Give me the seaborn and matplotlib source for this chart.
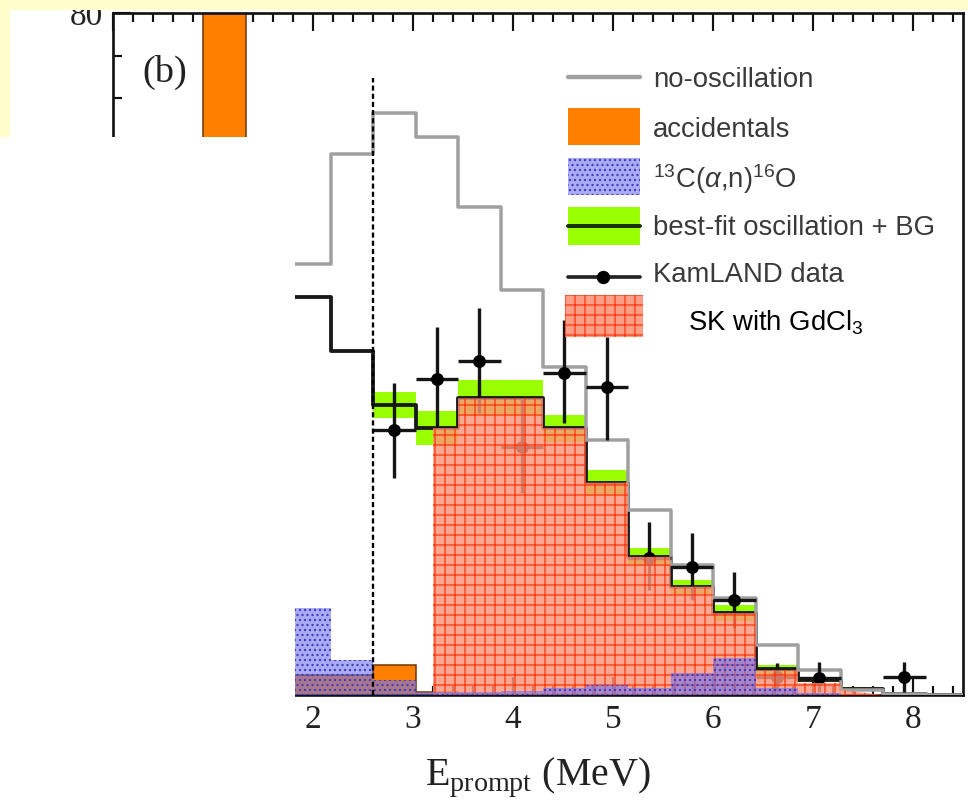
import numpy as np
import matplotlib
matplotlib.use("Agg")
import matplotlib.pyplot as plt
import seaborn as sns
from matplotlib.patches import Rectangle
from matplotlib.lines import Line2D
from matplotlib.ticker import MultipleLocator

nan = np.nan

# Prompt-energy binning (MeV), 0.425 MeV per bin
bin_edges = [0.9, 1.325, 1.75, 2.175, 2.6, 3.025, 3.45, 3.875, 4.3, 4.725,
             5.15, 5.575, 6.0, 6.425, 6.85, 7.275, 7.7, 8.125, 8.55]

# Expected spectra (events / bin)
no_oscillation = [nan, nan, 50.6, 63.5, 68.3, 65.5, 57.2, 47.5, 38.5, 29.9,
                  21.7, 15.2, 11.4, 5.9, 2.9, 0.6, 0.1, 0.0]
best_fit = [nan, nan, 46.7, 40.4, 34.0, 31.3, 34.8, 34.8, 31.3, 24.9,
            16.2, 12.7, 9.6, 3.0, 1.8, 0.7, 0.1, 0.0]
best_fit_band = [nan, nan, nan, nan, 1.5, 2.0, 2.1, 2.1, 1.6, 1.5,
                 1.1, 0.8, 0.9, 0.5, 0.3, 0.2, 0.1, 0.0]
accidentals = [230.0, 45.0, 2.3, 2.3, 3.5, 0.3, 0.1, 0.05, 0.0, 0.0,
               0.0, 0.0, 0.0, 0.0, 0.0, 0.0, 0.0, 0.0]
c13_alpha_n = [nan, nan, 10.2, 4.1, 1.8, 0.4, 0.3, 0.5, 0.8, 1.2,
               0.8, 2.6, 4.3, 0.8, 0.2, 0.0, 0.0, 0.0]

# KamLAND candidate events (bin centres)
data_energy = [2.8125, 3.2375, 3.6625, 4.0875, 4.5125, 4.9375,
               5.3625, 5.7875, 6.2125, 6.6375, 7.0625, 7.9125]
data_counts = [31.1, 37.1, 39.2, 29.1, 37.8, 36.1, 16.1, 15.0, 11.1, 2.1, 2.0, 2.1]
data_err_lo = [5.6, 5.7, 6.1, 5.4, 5.9, 6.2, 3.8, 3.9, 3.2, 1.6, 1.7, 1.8]
data_err_hi = [5.5, 6.1, 6.2, 5.9, 6.2, 5.9, 4.2, 4.0, 3.3, 1.6, 1.9, 1.8]
bin_half_width = 0.2125

# SK with GdCl3 expectation
sk_edges = [3.2, 3.45, 3.875, 4.3, 4.725, 5.15, 5.575, 6.0, 6.425, 6.85, 7.275]
sk_counts = [31.3, 34.8, 34.8, 31.3, 24.9, 16.2, 12.7, 9.6, 2.9, 1.4]
sk_tail_level = 0.6
sk_tail_end = 7.7

threshold = 2.6

# ---------------------------------------------------------------- style
W, H, DPI = 968, 812, 120
sns.set_theme(style="ticks")
plt.rcParams.update({
    "font.family": ["Liberation Serif", "DejaVu Serif"],
    "mathtext.fontset": "custom",
    "mathtext.rm": "Liberation Serif",
    "mathtext.sf": "Liberation Sans",
    "mathtext.it": "Liberation Sans:italic",
    "hatch.linewidth": 0.8,
    "axes.linewidth": 1.5,
})

acc_color = "#ff7f00"
c13_face = (0.45, 0.45, 0.92, 0.6)
c13_hatch = "#3d3dc0"
band_color = "#99ff00"
fit_color = "#1a1a1a"
noosc_color = "#a0a0a0"
sk_face = (1.0, 0.58, 0.48, 0.82)
sk_grid = "#ff3a10"
legend_text = "#3a3a3a"

fig = plt.figure(figsize=(W / DPI, H / DPI), dpi=DPI)
fig.patch.set_facecolor("white")
ax = fig.add_axes([113 / W, 1 - 695 / H, 850 / W, 682 / H])
ax.set_facecolor("white")


def valid(vals):
    arr = np.asarray(vals, dtype=float)
    return int(np.argmax(~np.isnan(arr)))


edges = np.asarray(bin_edges)

# accidentals (filled)
ax.stairs(accidentals, edges, fill=True, facecolor=acc_color, edgecolor="none", zorder=2)
ax.stairs(accidentals, edges, fill=False, color="#6a3300", lw=0.9, baseline=0, zorder=2.1)

# best-fit uncertainty band
i0 = valid(best_fit_band)
bf = np.asarray(best_fit, dtype=float)[i0:]
bw = np.asarray(best_fit_band, dtype=float)[i0:]
ax.stairs(bf + bw, edges[i0:], baseline=bf - bw, fill=True,
          facecolor=band_color, edgecolor="none", zorder=3)

# best-fit and no-oscillation step lines
for vals, col, lw in [(best_fit, fit_color, 2.3), (no_oscillation, noosc_color, 2.1)]:
    k = valid(vals)
    yv = list(vals[k:]) + [vals[-1]]
    sns.lineplot(x=list(edges[k:]), y=yv, ax=ax, color=col, lw=lw,
                 drawstyle="steps-post", sort=False, legend=False, zorder=4)

# KamLAND data
ax.errorbar(data_energy, data_counts, yerr=[data_err_lo, data_err_hi],
            xerr=bin_half_width, fmt="none", ecolor="#151515", elinewidth=2.0,
            capsize=0, zorder=5)
sns.scatterplot(x=data_energy, y=data_counts, ax=ax, color="black", s=60,
                linewidth=0, zorder=5.5, legend=False)

# SK with GdCl3 region
sx, sy = [sk_edges[0]], [0.0]
for j, h in enumerate(sk_counts):
    sx += [sk_edges[j], sk_edges[j + 1]]
    sy += [h, h]
sx += [sk_edges[-1], sk_tail_end]
sy += [sk_tail_level, 0.0]
ax.fill(sx, sy, facecolor=sk_face, edgecolor=sk_grid, hatch="++", lw=0, zorder=6)

# 13C(alpha,n)16O (hatched)
k = valid(c13_alpha_n)
ax.stairs(c13_alpha_n[k:], edges[k:], fill=True, facecolor=c13_face,
          edgecolor=c13_hatch, hatch="....", lw=0, zorder=7)

# analysis threshold
ax.axvline(threshold, ymax=0.905, color="black", lw=1.4, ls=(0, (2.2, 1.3)), zorder=8)

# ---------------------------------------------------------------- axes
ax.set_xlim(0, 8.5)
ax.set_ylim(0, 80)
ax.xaxis.set_major_locator(MultipleLocator(1))
ax.xaxis.set_minor_locator(MultipleLocator(0.2))
ax.yaxis.set_major_locator(MultipleLocator(20))
ax.yaxis.set_minor_locator(MultipleLocator(5))
ax.tick_params(which="both", direction="in", top=True, right=False,
               color="#111111", width=1.3)
ax.tick_params(which="major", length=11, pad=6, labelsize=20, labelcolor="#222222")
ax.tick_params(which="minor", length=5.5)
for s in ax.spines.values():
    s.set_color("#111111")
    s.set_linewidth(1.6)
    s.set_visible(True)
ax.set_xlabel(r"$\mathrm{E}_{\mathrm{prompt}}$ (MeV)", fontsize=24,
              color="#222222", labelpad=12)
ax.set_ylabel("")
ax.text(0.061, 0.913, "(b)", transform=ax.transAxes, ha="center", va="center",
        fontsize=23, color="#222222")

# ---------------------------------------------------------------- legend
lx0, lx1 = 0.535, 0.620
tx = 0.635
tkw = dict(transform=ax.transAxes, ha="left", va="baseline",
           family="Liberation Sans", fontsize=16.5, color=legend_text, zorder=12)
ax.add_line(Line2D([lx0, lx1], [0.906, 0.906], transform=ax.transAxes,
                   color=noosc_color, lw=2.6, zorder=11, clip_on=False))
ax.text(tx, 0.8915, "no-oscillation", **tkw)
ax.add_patch(Rectangle((lx0, 0.806), lx1 - lx0, 0.055, transform=ax.transAxes,
                       facecolor=acc_color, edgecolor="none", zorder=11))
ax.text(tx, 0.818, "accidentals", **tkw)
ax.add_patch(Rectangle((lx0, 0.733), lx1 - lx0, 0.054, transform=ax.transAxes,
                       facecolor=c13_face, edgecolor=c13_hatch, hatch="....",
                       lw=0, zorder=11))
ax.text(tx, 0.743, r"$^{\mathsf{13}}$C($\alpha$,n)$^{\mathsf{16}}$O", **tkw)
ax.add_patch(Rectangle((lx0, 0.660), lx1 - lx0, 0.056, transform=ax.transAxes,
                       facecolor=band_color, edgecolor="none", zorder=11))
ax.add_line(Line2D([lx0, lx1], [0.688, 0.688], transform=ax.transAxes,
                   color="#1a3300", lw=2.4, zorder=11.5))
ax.text(tx, 0.674, "best-fit oscillation + BG", **tkw)
ax.add_line(Line2D([lx0, lx1], [0.613, 0.613], transform=ax.transAxes,
                   color="#222222", lw=2.2, zorder=11))
ax.add_line(Line2D([0.576], [0.613], transform=ax.transAxes, marker="o",
                   markersize=7, color="black", zorder=11.5))
ax.text(tx, 0.6056, "KamLAND data", **tkw)
ax.add_patch(Rectangle((0.532, 0.525), 0.092, 0.062, transform=ax.transAxes,
                       facecolor=(1.0, 0.58, 0.48, 0.9), edgecolor=sk_grid,
                       hatch="++", lw=0, zorder=11))
ax.text(0.676, 0.535, r"SK with GdCl$_{\mathsf{3}}$", transform=ax.transAxes,
        ha="left", va="baseline", family="Liberation Sans", fontsize=16.5,
        color="black", zorder=12)

# ---------------------------------------------------------------- page frame
yellow = "#ffffcc"
fig.add_artist(Rectangle((0, 1 - 10 / H), 1, 10 / H, transform=fig.transFigure,
                         facecolor=yellow, edgecolor="none", zorder=20))
fig.add_artist(Rectangle((0, 1 - 137 / H), 10 / W, 137 / H, transform=fig.transFigure,
                         facecolor=yellow, edgecolor="none", zorder=20))
fig.add_artist(Rectangle((0, 0), 295 / W, 1 - 137 / H, transform=fig.transFigure,
                         facecolor="white", edgecolor="none", zorder=20))

fig.savefig("out.png", dpi=DPI, facecolor=fig.get_facecolor())
